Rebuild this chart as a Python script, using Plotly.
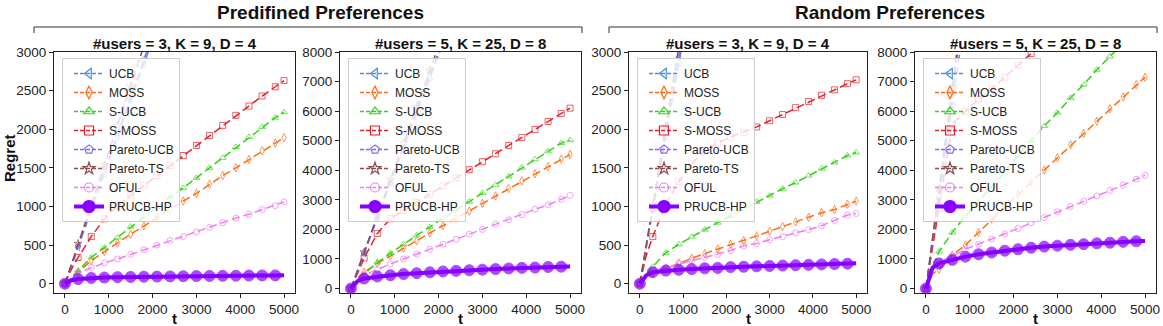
import plotly.graph_objects as go

W, H = 1163, 326
FONT = "Liberation Sans, Arial, sans-serif"

# shared time grid
T = [0, 150, 300, 600, 900, 1200, 1500, 1800, 2100, 2400, 2700, 3000,
     3300, 3600, 3900, 4200, 4500, 4800, 5000]

ALGOS = ["UCB", "MOSS", "S-UCB", "S-MOSS", "Pareto-UCB", "Pareto-TS", "OFUL", "PRUCB-HP"]

# Predefined preferences, #users=3, K=9, D=4
P3_UCB = [0, 240, 470, 950, 1420, 1900, 2370, 2840, 3320]
P3_MOSS = [0, 70, 150, 300, 420, 530, 640, 750, 850, 960, 1070, 1170, 1290, 1400, 1500, 1610, 1720, 1820, 1890]
P3_SUCB = [0, 80, 170, 340, 470, 600, 740, 870, 1000, 1120, 1240, 1370, 1500, 1630, 1770, 1900, 2030, 2150, 2220]
P3_SMOSS = [0, 190, 340, 610, 840, 1010, 1140, 1270, 1400, 1530, 1660, 1790, 1920, 2050, 2180, 2300, 2430, 2550, 2630]
P3_PUCB = [0, 250, 490, 980, 1460, 1950, 2430, 2900, 3380]
P3_PTS = [0, 260, 520, 1030, 1540, 2050, 2560, 3080]
P3_OFUL = [0, 90, 140, 210, 270, 320, 380, 440, 500, 560, 610, 670, 730, 790, 850, 900, 960, 1010, 1060]
P3_PRUCB = [0, 45, 60, 75, 80, 85, 88, 91, 93, 95, 97, 99, 101, 103, 104, 106, 107, 108, 110]

# Predefined preferences, #users=5, K=25, D=8
P5_UCB = [0, 600, 1200, 2400, 3600, 4800, 6000, 7200, 8400]
P5_MOSS = [0, 300, 550, 850, 1100, 1370, 1620, 1880, 2130, 2380, 2620, 2880, 3130, 3380, 3640, 3880, 4120, 4380, 4530]
P5_SUCB = [0, 250, 480, 880, 1200, 1500, 1800, 2080, 2380, 2660, 2940, 3230, 3510, 3790, 4090, 4370, 4640, 4920, 5020]
P5_SMOSS = [0, 530, 1030, 1860, 2360, 2640, 2910, 3190, 3470, 3740, 4020, 4290, 4560, 4840, 5110, 5380, 5650, 5920, 6100]
P5_PUCB = [0, 590, 1180, 2370, 3550, 4740, 5920, 7110, 8300]
P5_PTS = [0, 620, 1230, 2460, 3690, 4920, 6150, 7380, 8610]
P5_OFUL = [0, 300, 450, 650, 830, 1000, 1160, 1330, 1500, 1670, 1840, 2000, 2180, 2330, 2500, 2680, 2830, 3020, 3150]
P5_PRUCB = [0, 250, 340, 410, 450, 490, 520, 550, 580, 600, 620, 640, 660, 680, 700, 710, 730, 740, 750]

# Random preferences, #users=3, K=9, D=4
R3_UCB = [0, 490, 980, 1950, 2930, 3900]
R3_MOSS = [0, 80, 130, 200, 270, 330, 390, 450, 510, 560, 620, 680, 740, 800, 860, 920, 960, 1030, 1070]
R3_SUCB = [0, 120, 220, 400, 510, 610, 700, 790, 880, 970, 1060, 1140, 1230, 1310, 1400, 1490, 1570, 1660, 1700]
R3_SMOSS = [0, 370, 610, 1030, 1320, 1560, 1720, 1820, 1900, 1960, 2030, 2110, 2190, 2280, 2360, 2440, 2510, 2590, 2640]
R3_PUCB = [0, 480, 950, 1900, 2850, 3800]
R3_PTS = [0, 510, 1020, 2040, 3060]
R3_OFUL = [0, 110, 160, 210, 260, 300, 340, 380, 430, 490, 520, 570, 610, 660, 700, 750, 820, 890, 910]
R3_PRUCB = [0, 110, 150, 170, 180, 190, 200, 205, 215, 220, 225, 230, 235, 240, 245, 250, 255, 260, 265]

# Random preferences, #users=5, K=25, D=8
R5_UCB = [0, 1650, 3300, 6600, 9900]
R5_MOSS = [0, 500, 650, 1130, 1470, 1900, 2350, 2780, 3180, 3600, 4010, 4430, 4860, 5250, 5660, 6080, 6480, 6900, 7150]
R5_SUCB = [0, 750, 1250, 1900, 2450, 2950, 3450, 3950, 4500, 5000, 5500, 5950, 6450, 6900, 7400, 7850, 8300]
R5_SMOSS = [0, 1400, 2700, 5550, 6000, 6400, 6750, 7150, 7550, 7950, 8350]
R5_PUCB = [0, 1550, 3100, 6200, 9300]
R5_PTS = [0, 1700, 3400, 6800, 10200]
R5_OFUL = [0, 700, 900, 1100, 1330, 1500, 1680, 1850, 2030, 2220, 2400, 2600, 2780, 2950, 3130, 3320, 3500, 3700, 3830]
R5_PRUCB = [0, 700, 850, 970, 1080, 1160, 1220, 1280, 1330, 1380, 1420, 1450, 1480, 1500, 1530, 1550, 1580, 1600, 1610]

PANELS = [
    [P3_UCB, P3_MOSS, P3_SUCB, P3_SMOSS, P3_PUCB, P3_PTS, P3_OFUL, P3_PRUCB],
    [P5_UCB, P5_MOSS, P5_SUCB, P5_SMOSS, P5_PUCB, P5_PTS, P5_OFUL, P5_PRUCB],
    [R3_UCB, R3_MOSS, R3_SUCB, R3_SMOSS, R3_PUCB, R3_PTS, R3_OFUL, R3_PRUCB],
    [R5_UCB, R5_MOSS, R5_SUCB, R5_SMOSS, R5_PUCB, R5_PTS, R5_OFUL, R5_PRUCB],
]
PANEL_TITLES = ["#users = 3, K = 9, D = 4", "#users = 5, K = 25, D = 8",
                "#users = 3, K = 9, D = 4", "#users = 5, K = 25, D = 8"]
YMAX = [3000, 8000, 3000, 8000]

COLORS = ["#4a8fe0", "#ff6a13", "#33d414", "#e6202a", "#8866f5", "#8b4f4f", "#ee7ef0", "#8800ff"]
SYMBOLS = ["triangle-left-open", "diamond-tall-open", "triangle-up-open", "square-open",
           "pentagon-open", "star-open", "circle-open", "circle"]

# frame positions in pixels (left, right)
FRAMES = [(54, 295), (340, 581), (629, 867), (915, 1156)]
TOP, BOTTOM = 52, 293


def px_x(p):
    return p / W


def px_y(p):
    return 1 - p / H


fig = go.Figure()

for i, series in enumerate(PANELS):
    ax = "" if i == 0 else str(i + 1)
    leg = "legend" if i == 0 else f"legend{i + 1}"
    for j, name in enumerate(ALGOS):
        ys = series[j]
        xs = T[:len(ys)]
        bold = name == "PRUCB-HP"
        if bold:
            sizes = [0 if t in (150, 5000) else 11 for t in xs]
            line = dict(color=COLORS[j], width=4)
        else:
            sizes = [0 if t in (150,) else 6 for t in xs]
            line = dict(color=COLORS[j], width=1.5, dash="8px,4px")
        fig.add_trace(go.Scatter(
            x=xs, y=ys, name=name, mode="lines+markers",
            line=line, showlegend=False,
            marker=dict(symbol=SYMBOLS[j], size=sizes, color=COLORS[j],
                        line=dict(width=1, color=COLORS[j])),
            xaxis="x" + ax, yaxis="y" + ax,
        ))
        # legend handle with bigger marker, like the matplotlib legend
        fig.add_trace(go.Scatter(
            x=[None], y=[None], name=name, mode="lines+markers",
            line=dict(color=COLORS[j], width=4 if bold else 1.5,
                      dash="solid" if bold else "4px,2px"),
            marker=dict(symbol=SYMBOLS[j], size=12 if bold else 9, color=COLORS[j],
                        line=dict(width=1.2, color=COLORS[j])),
            xaxis="x" + ax, yaxis="y" + ax, legend=leg,
        ))

    l, r = FRAMES[i]
    axis_common = dict(showline=True, mirror=True, linecolor="#222222", linewidth=1.2,
                       ticks="outside", ticklen=4, tickcolor="#222222", showgrid=False,
                       zeroline=False, automargin=False,
                       tickfont=dict(family=FONT, size=13.5, color="#222222"))
    fig.layout["xaxis" + ax] = dict(domain=[px_x(l), px_x(r)], range=[-250, 5250],
                                    tickvals=[0, 1000, 2000, 3000, 4000, 5000],
                                    anchor="y" + ax, **axis_common)
    ymin = -120 if YMAX[i] == 3000 else -150
    fig.layout["yaxis" + ax] = dict(domain=[px_y(BOTTOM), px_y(TOP)], range=[ymin, YMAX[i]],
                                    dtick=500 if YMAX[i] == 3000 else 1000,
                                    anchor="x" + ax, **axis_common)
    fig.layout[leg] = dict(x=px_x(l + 8), y=px_y(TOP + 6), xanchor="left", yanchor="top",
                           bgcolor="rgba(255,255,255,0.8)", bordercolor="#cccccc",
                           borderwidth=1, itemwidth=30, tracegroupgap=0, indentation=6,
                           font=dict(family=FONT, size=12, color="#222222"))

    cx = (l + r) / 2
    fig.add_annotation(x=px_x(cx), y=px_y(43), xref="paper", yref="paper",
                       xanchor="center", yanchor="middle",
                       text="<b>" + PANEL_TITLES[i] + "</b>", showarrow=False,
                       font=dict(family=FONT, size=15, color="#111111"))
    fig.add_annotation(x=px_x(cx), y=px_y(318), xref="paper", yref="paper",
                       xanchor="center", yanchor="middle",
                       text="<b>t</b>", showarrow=False,
                       font=dict(family=FONT, size=15, color="#111111"))

fig.add_annotation(x=px_x(9), y=px_y(158), xref="paper", yref="paper", text="<b>Regret</b>",
                   xanchor="center", yanchor="middle",
                   textangle=-90, showarrow=False, font=dict(family=FONT, size=15, color="#111111"))

# group headers with brackets
for title, x0, x1, cx in [("Predifined Preferences", 34, 582, 320),
                          ("Random Preferences", 609, 1157, 890)]:
    fig.add_annotation(x=px_x(cx), y=px_y(13), xref="paper", yref="paper",
                       xanchor="center", yanchor="middle",
                       text="<b>" + title + "</b>", showarrow=False,
                       font=dict(family=FONT, size=19, color="#111111"))
    fig.add_shape(type="path", xref="paper", yref="paper",
                  path=f"M {px_x(x0)} {px_y(33)} L {px_x(x0)} {px_y(27)} "
                       f"L {px_x(x1)} {px_y(27)} L {px_x(x1)} {px_y(33)}",
                  line=dict(color="#333333", width=1))

fig.update_layout(width=W, height=H,
                  margin=dict(l=0, r=0, t=0, b=0, pad=0, autoexpand=False),
                  plot_bgcolor="white", paper_bgcolor="white", showlegend=True,
                  font=dict(family=FONT))

# the page body has a default 8px margin; drop it so the figure fills the window
fig.write_html("out.html", config={"displayModeBar": False},
               post_script="document.body.style.margin = '0';")
